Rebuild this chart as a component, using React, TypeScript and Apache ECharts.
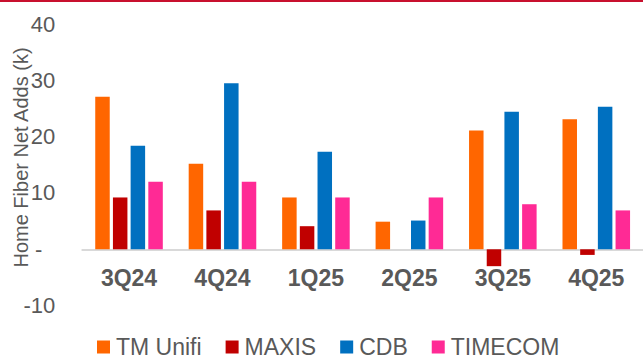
import React, { useEffect, useRef } from "react";
import * as echarts from "echarts";

const categories = ["3Q24", "4Q24", "1Q25", "2Q25", "3Q25", "4Q25"];
const tmUnifi = [27.1, 15.2, 9.2, 4.9, 21.1, 23.1];
const maxis = [9.2, 6.9, 4.1, 0, -3.0, -1.0];
const cdb = [18.4, 29.5, 17.3, 5.1, 24.4, 25.3];
const timecom = [12.0, 12.0, 9.2, 9.2, 8.0, 6.9];
const seriesNames = ["TM Unifi", "MAXIS", "CDB", "TIMECOM"];
const seriesColors = ["#FF6600", "#C00000", "#0070C0", "#FF2A95"];
const yAxisTitle = "Home Fiber Net Adds (k)";

const FONT = "'Liberation Sans', Arial, sans-serif";
const GRAY = "#595959";

export default function App() {
  const ref = useRef<HTMLDivElement>(null);
  useEffect(() => {
    if (!ref.current) return;
    const chart = echarts.init(ref.current, undefined, { renderer: "svg" });
    const datas = [tmUnifi, maxis, cdb, timecom];
    chart.setOption({
      animation: false,
      backgroundColor: "#ffffff",
      textStyle: { fontFamily: FONT },
      grid: { left: 82.3, right: -11.4, top: 24, bottom: 52.4, containLabel: false },
      legend: {
        left: 97,
        top: 335.5,
        padding: 0,
        itemWidth: 13,
        itemHeight: 13,
        itemGap: 24,
        icon: "rect",
        textStyle: { fontSize: 23, lineHeight: 20, color: GRAY, fontFamily: FONT, padding: [0, 0, 0, 1] },
        data: seriesNames,
      },
      xAxis: {
        type: "category",
        data: categories,
        axisLine: { onZero: true, lineStyle: { color: "#D9D9D9", width: 2 } },
        axisTick: { show: false },
        axisLabel: { fontSize: 23, fontWeight: "bold", color: GRAY, margin: -39, fontFamily: FONT },
      },
      yAxis: {
        type: "value",
        min: -10,
        max: 40,
        interval: 10,
        axisLine: { show: false },
        axisTick: { show: false },
        splitLine: { show: false },
        axisLabel: {
          fontSize: 22,
          color: GRAY,
          margin: 27,
          fontFamily: FONT,
          formatter: (v: number) => (v === 0 ? "{d|-}" : String(v)),
          rich: { d: { fontSize: 22, color: GRAY, padding: [0, 13, 0, 0], fontFamily: FONT } },
        },
      },
      graphic: [
        { type: "rect", left: 0, top: 0, shape: { width: 643, height: 2 }, style: { fill: "#C8102E" } },
        {
          type: "text",
          x: 21,
          y: 157.5,
          rotation: Math.PI / 2,
          style: {
            text: yAxisTitle,
            fontSize: 20,
            fill: GRAY,
            fontFamily: FONT,
            align: "center",
            verticalAlign: "middle",
          },
        },
      ],
      series: seriesNames.map((name, i) => ({
        name,
        type: "bar",
        data: datas[i],
        barWidth: 14.5,
        barGap: "22%",
        itemStyle: { color: seriesColors[i] },
      })),
    });
    return () => chart.dispose();
  }, []);
  return (
    <div
      ref={ref}
      style={{ position: "fixed", left: 0, top: 0, width: 643, height: 358 }}
    />
  );
}
